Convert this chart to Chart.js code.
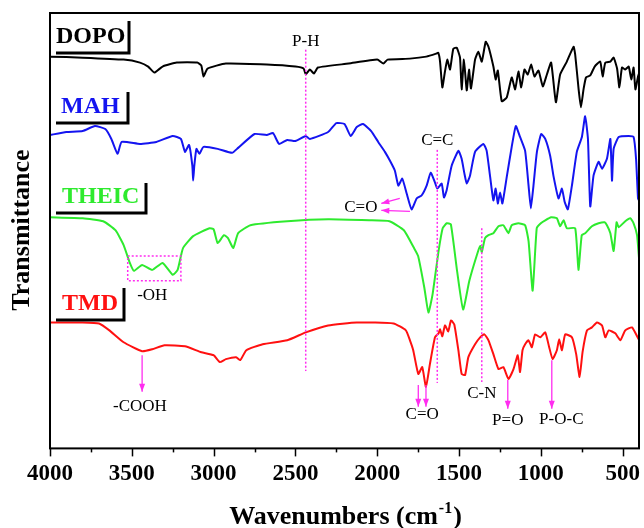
<!DOCTYPE html>
<html>
<head>
<meta charset="utf-8">
<script src="https://cdn.jsdelivr.net/npm/chart.js@4.4.1/dist/chart.umd.min.js"></script>
<style>
  html, body { margin: 0; padding: 0; background: #fff; }
  #wrap { width: 644px; height: 528px; }
</style>
</head>
<body>
<div id="wrap"><canvas id="ftir"></canvas></div>
<script>
// wavenumbers (cm-1) and transmittance levels (arbitrary units, curves stacked)
const dopoWave = [4000,3800,3550,3450,3400,3362,3312,3225,3100,3075,3062,3037,2925,2675,2500,2450,2437,2412,2387,2362,2175,2000,1962,1937,1800,1700,1640,1627,1616,1602,1586,1572,1555,1535,1514,1494,1484,1470,1453,1439,1427,1402,1382,1361,1337,1320,1290,1276,1263,1239,1208,1178,1157,1137,1120,1100,1080,1059,1039,1014,988,963,937,908,882,841,800,790,769,755,739,724,698,671,637,622,606,575,555,534,520,504,484,463,447,433,422,406,400];
const dopoT = [395,394,392,389,385,379,385,389,389,386,375,383,388,387,385,383,377,382,378,384,388,392,388,392,393,395,398,399,390,364,380,392,382,403,404,394,362,392,361,382,363,392,400,390,410,405,385,372,381,350,354,374,362,380,364,382,377,387,375,381,365,377,389,349,377,390,405,397,362,344,362,374,376,385,390,375,389,390,394,383,364,384,382,385,372,384,362,375,378];

const mahWave = [4000,3900,3800,3725,3662,3625,3587,3562,3450,3350,3250,3200,3175,3150,3130,3125,3118,3105,3087,3062,2975,2887,2850,2750,2675,2637,2600,2550,2500,2437,2412,2300,2250,2200,2162,2125,2087,2037,1994,1953,1922,1892,1871,1847,1820,1790,1759,1729,1698,1673,1649,1633,1606,1592,1576,1545,1504,1484,1467,1453,1433,1402,1351,1331,1310,1290,1276,1263,1249,1235,1208,1178,1153,1127,1096,1075,1061,1045,1024,998,973,943,922,892,871,855,835,810,780,749,729,712,698,678,647,626,596,575,565,555,524,463,433,418,406,400];
const mahT = [316,319,320,325,322,312,297,309,307,309,315,312,299,306,285,270,285,302,297,304,302,298,303,317,316,318,307,311,310,315,312,319,328,327,315,324,327,320,309,299,290,280,265,272,257,241,252,255,265,278,269,262,267,253,260,285,300,292,277,267,275,299,307,300,274,250,262,247,258,247,274,304,325,314,300,265,242,265,299,317,312,295,274,252,262,249,241,265,299,314,335,312,244,275,289,282,292,312,270,302,314,315,314,292,252,250];

const theicWave = [4000,3800,3675,3600,3550,3512,3487,3437,3375,3312,3250,3220,3187,3125,3025,3000,2975,2937,2912,2880,2850,2775,2550,2300,2050,1925,1837,1775,1750,1712,1687,1662,1625,1600,1575,1550,1512,1475,1437,1387,1370,1361,1341,1320,1290,1259,1229,1198,1178,1137,1096,1075,1050,1025,1000,973,937,902,882,861,841,790,770,750,729,688,647,610,596,575,555,537,524,484,453,433,412,400];
const theicT = [233,232,229,220,205,187,179,185,180,187,175,180,202,214,222,221,207,215,212,202,217,225,229,231,230,229,220,202,194,162,137,155,199,222,227,226,179,140,169,197,204,198,212,215,217,224,225,217,225,227,225,209,159,222,227,230,233,232,224,230,222,222,180,215,217,224,227,228,225,217,199,228,223,229,232,227,215,192];

const tmdWave = [4000,3800,3700,3637,3550,3437,3375,3300,3175,3075,3000,2962,2925,2862,2837,2800,2700,2550,2437,2300,2125,1900,1825,1800,1780,1749,1725,1702,1678,1647,1625,1616,1602,1586,1566,1549,1529,1504,1484,1463,1443,1402,1371,1345,1320,1290,1259,1229,1198,1167,1141,1127,1112,1096,1075,1055,1035,1004,973,949,928,902,888,871,851,810,784,763,745,718,688,657,626,606,585,545,514,484,443,402,400];
const tmdT = [127,127,126,119,107,98,100,104,103,97,94,87,90,92,89,99,105,109,117,124,127,126,119,109,99,75,82,62,85,112,116,120,113,124,118,129,125,99,75,74,92,105,112,115,109,95,80,82,70,80,94,77,99,105,109,102,115,112,117,102,90,99,110,99,115,112,95,72,97,119,122,127,124,112,119,116,109,119,122,110,110];

const seriesNames = ['DOPO', 'MAH', 'THEIC', 'TMD'];
const seriesColors = ['#000000', '#1414f0', '#2eea2e', '#ff1010'];
const majorTicks = [4000, 3500, 3000, 2500, 2000, 1500, 1000, 500];

// band markers
const guideWave = [2437, 1633, 1361];
const guideTop = [402, 301, 222];
const guideBottom = [78, 66, 67];
const arrowWave = [3437, 1749, 1702, 1202, 933];
const arrowFrom = [94, 64, 64, 69, 89];
const arrowTo = [57, 42, 42, 40, 40];
const noteText = ['P-H', 'C=C', 'C=O', '-OH', '-COOH', 'C=O', 'C-N', 'P=O', 'P-O-C'];
const noteWave = [2437, 1633, 2100, 3375, 3450, 1725, 1361, 1202, 875];
const noteLevel = [410, 310, 243, 154, 42, 34, 55, 28, 29];

function pairs(xs, ys) {
  return xs.map((w, i) => ({ x: w, y: ys[i] }));
}

const allData = [pairs(dopoWave, dopoT), pairs(mahWave, mahT), pairs(theicWave, theicT), pairs(tmdWave, tmdT)];

const MAG = '#ff2df0';
const SERIF = "'Liberation Serif', 'Times New Roman', serif";

function arrow(ctx, x1, y1, x2, y2) {
  ctx.beginPath();
  ctx.moveTo(x1, y1);
  ctx.lineTo(x2, y2);
  ctx.stroke();
  const ang = Math.atan2(y2 - y1, x2 - x1);
  ctx.beginPath();
  ctx.moveTo(x2, y2);
  ctx.lineTo(x2 - 8 * Math.cos(ang) + 3 * Math.sin(ang), y2 - 8 * Math.sin(ang) - 3 * Math.cos(ang));
  ctx.lineTo(x2 - 8 * Math.cos(ang) - 3 * Math.sin(ang), y2 - 8 * Math.sin(ang) + 3 * Math.cos(ang));
  ctx.closePath();
  ctx.fill();
}

const decor = {
  id: 'decor',
  afterDraw(chart) {
    const ctx = chart.ctx, a = chart.chartArea;
    const xs = chart.scales.x, ys = chart.scales.y;
    ctx.save();

    // frame
    ctx.strokeStyle = '#000';
    ctx.lineWidth = 2;
    ctx.strokeRect(a.left, a.top, a.right - a.left, a.bottom - a.top);

    // tick marks, minor every 250
    ctx.lineWidth = 1.5;
    for (let w = 4000; w >= 500; w -= 250) {
      const px = Math.round(xs.getPixelForValue(w)) + 0.5;
      const len = w % 500 === 0 ? 8 : 4;
      ctx.beginPath();
      ctx.moveTo(px, a.bottom);
      ctx.lineTo(px, a.bottom + len);
      ctx.stroke();
    }

    // dotted guide lines
    ctx.strokeStyle = MAG;
    ctx.fillStyle = MAG;
    ctx.lineWidth = 1.5;
    ctx.setLineDash([2, 2]);
    guideWave.forEach((w, i) => {
      const px = xs.getPixelForValue(w);
      ctx.beginPath();
      ctx.moveTo(px, ys.getPixelForValue(guideTop[i]));
      ctx.lineTo(px, ys.getPixelForValue(guideBottom[i]));
      ctx.stroke();
    });
    // -OH box
    const bx1 = xs.getPixelForValue(3525), bx2 = xs.getPixelForValue(3200);
    const by1 = ys.getPixelForValue(194), by2 = ys.getPixelForValue(169);
    ctx.strokeRect(bx1, by1, bx2 - bx1, by2 - by1);
    ctx.setLineDash([]);

    // arrows
    ctx.lineWidth = 1.3;
    arrowWave.forEach((w, i) => {
      const px = xs.getPixelForValue(w);
      arrow(ctx, px, ys.getPixelForValue(arrowFrom[i]), px, ys.getPixelForValue(arrowTo[i]));
    });
    arrow(ctx, xs.getPixelForValue(1862), ys.getPixelForValue(252), xs.getPixelForValue(1975), ys.getPixelForValue(247));
    arrow(ctx, xs.getPixelForValue(1800), ys.getPixelForValue(239), xs.getPixelForValue(1975), ys.getPixelForValue(240));

    // notes
    ctx.fillStyle = '#000';
    ctx.font = '17px ' + SERIF;
    ctx.textAlign = 'center';
    ctx.textBaseline = 'middle';
    noteText.forEach((t, i) => {
      ctx.fillText(t, xs.getPixelForValue(noteWave[i]), ys.getPixelForValue(noteLevel[i]));
    });

    // series label boxes
    const boxes = [
      { x: 56, base: 43, right: 129, top: 21, bottom: 53 },
      { x: 61, base: 113, right: 128, top: 92, bottom: 123 },
      { x: 62, base: 203, right: 146, top: 183, bottom: 213 },
      { x: 62, base: 310, right: 124, top: 288, bottom: 320 }
    ];
    ctx.font = 'bold 24px ' + SERIF;
    ctx.textAlign = 'left';
    ctx.textBaseline = 'alphabetic';
    boxes.forEach((b, i) => {
      ctx.fillStyle = seriesColors[i];
      ctx.fillText(seriesNames[i], b.x, b.base);
      ctx.strokeStyle = '#000';
      ctx.lineWidth = 3;
      ctx.beginPath();
      ctx.moveTo(b.right, b.top);
      ctx.lineTo(b.right, b.bottom);
      ctx.lineTo(56, b.bottom);
      ctx.stroke();
    });

    // y title
    ctx.fillStyle = '#000';
    ctx.font = 'bold 26px ' + SERIF;
    ctx.textAlign = 'center';
    ctx.textBaseline = 'middle';
    ctx.save();
    ctx.translate(22, 230);
    ctx.rotate(-Math.PI / 2);
    ctx.fillText('Transmittance', 0, 0);
    ctx.restore();

    // x title with superscript
    const main = 'Wavenumbers (cm', sup = '-1', tail = ')';
    ctx.font = 'bold 26px ' + SERIF;
    const wMain = ctx.measureText(main).width;
    const wTail = ctx.measureText(tail).width;
    ctx.font = 'bold 16px ' + SERIF;
    const wSup = ctx.measureText(sup).width;
    let tx = (a.left + a.right) / 2 - (wMain + wSup + wTail) / 2;
    const ty = 524;
    ctx.textAlign = 'left';
    ctx.textBaseline = 'alphabetic';
    ctx.font = 'bold 26px ' + SERIF;
    ctx.fillText(main, tx, ty);
    ctx.font = 'bold 16px ' + SERIF;
    ctx.fillText(sup, tx + wMain + 1, ty - 11);
    ctx.font = 'bold 26px ' + SERIF;
    ctx.fillText(tail, tx + wMain + wSup + 2, ty);

    ctx.restore();
  }
};

const config = {
  type: 'line',
  data: {
    datasets: allData.map((d, i) => ({
      label: seriesNames[i],
      data: d,
      borderColor: seriesColors[i],
      borderWidth: 2,
      pointRadius: 0,
      tension: 0.15,
      fill: false
    }))
  },
  options: {
    responsive: true,
    maintainAspectRatio: false,
    animation: false,
    devicePixelRatio: 1,
    layout: { padding: { left: 50, right: 4, top: 13, bottom: 36 } },
    plugins: {
      legend: { display: false },
      tooltip: { enabled: false }
    },
    scales: {
      x: {
        type: 'linear',
        reverse: true,
        min: 400,
        max: 4000,
        afterBuildTicks: (s) => { s.ticks = majorTicks.map(v => ({ value: v })); },
        ticks: {
          color: '#000',
          padding: 4,
          maxRotation: 0,
          autoSkip: false,
          font: { family: SERIF, size: 23, weight: 'bold' },
          callback: (v) => String(v)
        },
        grid: { display: true, drawOnChartArea: false, color: 'rgba(0,0,0,0)', tickLength: 8 },
        border: { display: false }
      },
      y: {
        display: false,
        min: 0,
        max: 439
      }
    }
  },
  plugins: [decor]
};

const ftirChart = new Chart(document.getElementById('ftir'), config);
</script>
</body>
</html>
